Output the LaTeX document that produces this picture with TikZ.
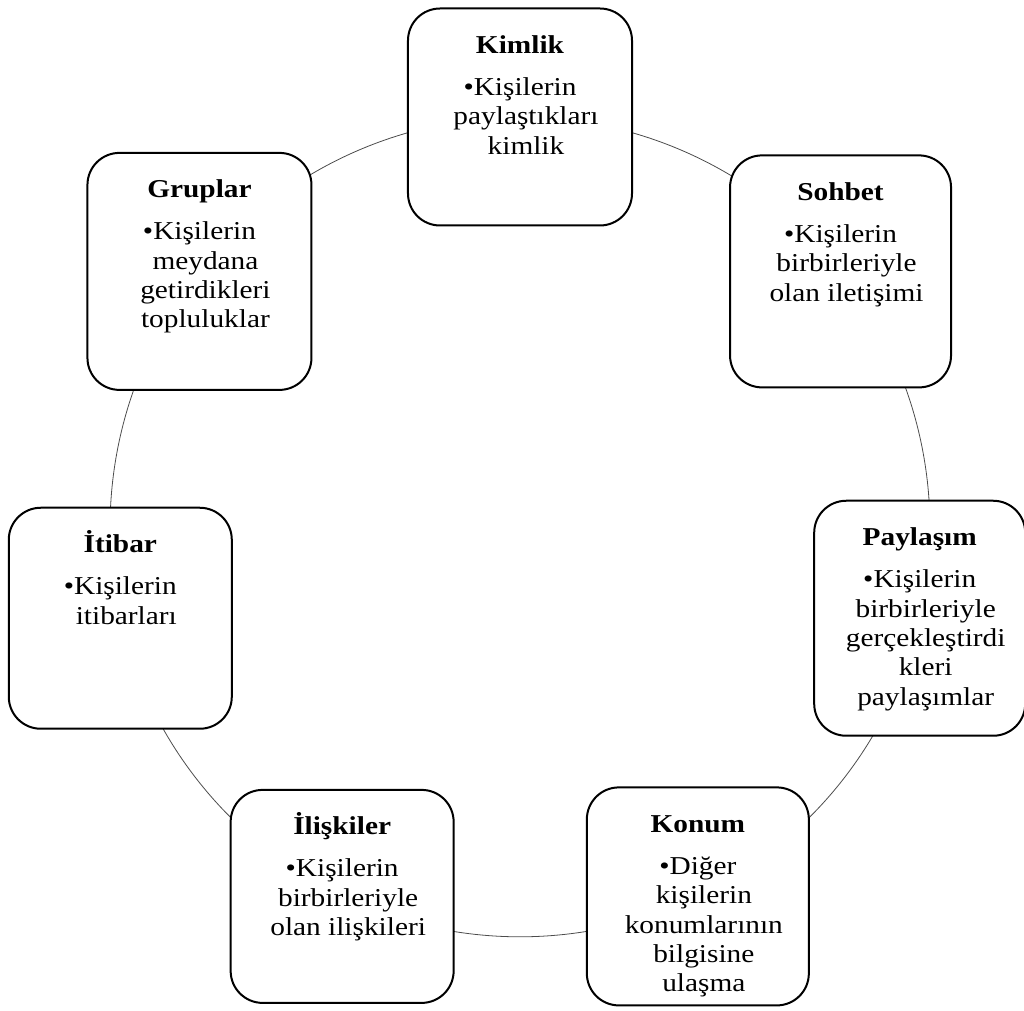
\documentclass[tikz,border=0pt]{standalone}
\usepackage{fontspec}
\setmainfont{Liberation Serif}[FakeStretch=1.14]
\usetikzlibrary{backgrounds}

\newcommand{\cardtext}[4]{%
	\parbox[c][#2][t]{#1}{\centering\fontsize{19.3}{22}\selectfont
		\rule{0pt}{33.75pt}\textbf{#3}\par\vspace{9.5pt}
		\leftskip=9pt plus 1fil\hspace*{-9pt}\textbullet#4\par}}

\begin{document}
\begin{tikzpicture}[x=0.75pt, y=0.75pt,
		card/.style={draw, line width=1.5pt, rounded corners=24pt, fill=white, inner sep=0pt},
		ring/.style={draw=black!70, line width=0.6pt, bend left=25.71, looseness=0.8956}]
	\useasboundingbox (-520, -483) rectangle (504, 527);

	\node[card] (kimlik) at (90:410) {\cardtext{168pt}{162.75pt}{Kimlik}{Kişilerin\\paylaştıkları\\kimlik}};
	\node[card] (sohbet) at (38.57:410) {\cardtext{165.75pt}{174pt}{Sohbet}{Kişilerin\\birbirleriyle\\olan iletişimi}};
	\node[card] (paylasim) at (-12.86:410) {\cardtext{158.25pt}{176.25pt}{Paylaşım}{Kişilerin\\birbirleriyle\\gerçekleştirdi\\kleri\\paylaşımlar}};
	\node[card] (konum) at (-64.29:410) {\cardtext{166.5pt}{163.5pt}{Konum}{Diğer\\kişilerin\\konumlarının\\bilgisine\\ulaşma}};
	\node[card] (iliskiler) at (-115.71:410) {\cardtext{167.25pt}{159.75pt}{İlişkiler}{Kişilerin\\birbirleriyle\\olan ilişkileri}};
	\node[card] (itibar) at (-167.14:410) {\cardtext{167.25pt}{165.75pt}{İtibar}{Kişilerin\\itibarları}};
	\node[card] (gruplar) at (141.43:410) {\cardtext{168pt}{177.75pt}{Gruplar}{Kişilerin\\meydana\\getirdikleri\\topluluklar}};

	\begin{scope}[on background layer]
		\draw[ring] (kimlik.center) to (sohbet.center) to (paylasim.center) to (konum.center)
			to (iliskiler.center) to (itibar.center) to (gruplar.center) to (kimlik.center);
	\end{scope}
\end{tikzpicture}
\end{document}
